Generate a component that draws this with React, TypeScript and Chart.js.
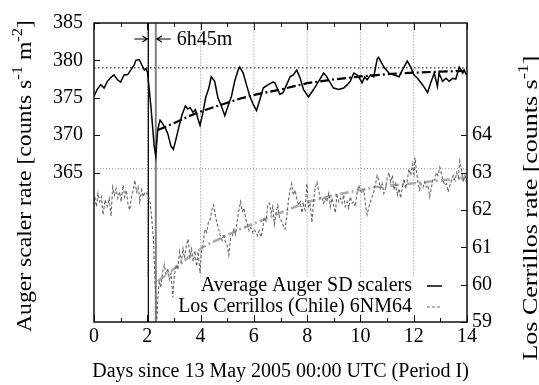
import React, { useEffect, useRef } from 'react';
import { Chart, registerables } from 'chart.js';
Chart.register(...registerables);

const FONT = '"Liberation Serif", "Times New Roman", serif';
const FS = 20;

// ---- data ----
const augerDays = [0,0.12,0.25,0.38,0.5,0.63,0.75,0.88,1.0,1.13,1.26,1.38,1.51,1.57,1.7,1.8,1.89,1.95,2.01,2.14,2.26,2.32,2.39,2.48,2.58,2.68,2.77,2.89,2.98,3.1,3.2,3.31,3.43,3.52,3.61,3.71,3.81,3.9,3.98,4.09,4.19,4.31,4.4,4.53,4.65,4.78,4.91,5.03,5.16,5.28,5.41,5.47,5.6,5.72,5.85,5.97,6.1,6.23,6.35,6.54,6.72,6.79,6.92,6.98,7.1,7.23,7.36,7.48,7.61,7.74,7.86,8.05,8.24,8.43,8.62,8.74,8.87,8.99,9.18,9.37,9.51,9.62,9.75,9.88,10.0,10.06,10.16,10.25,10.38,10.5,10.63,10.68,10.88,11.07,11.26,11.45,11.57,11.76,11.89,12.01,12.14,12.33,12.52,12.64,12.77,12.89,12.95,13.08,13.21,13.33,13.46,13.58,13.71,13.84,13.89,13.98];
const augerRates = [375.2,376.1,376.75,376.3,377.2,377.7,378.05,377.4,377.1,378.05,378.1,378.7,379.4,380.0,380.1,379.35,378.7,378.9,378.4,373.7,368.5,367.2,370.7,372.0,371.5,370.9,370.2,368.5,368.1,369.8,371.3,372.8,373.9,373.5,373.7,373.05,373.4,372.2,371.3,373.05,375.0,376.3,377.8,377.2,375.0,373.9,372.6,373.9,375.2,377.2,378.7,379.1,378.3,376.75,375.2,374.15,373.3,374.8,376.3,376.75,377.1,377.0,375.9,375.45,375.7,376.75,377.8,378.05,378.7,377.6,376.1,375.1,376.1,377.2,378.3,377.8,377.0,376.3,376.1,376.3,376.75,377.2,378.3,378.05,377.4,377.0,377.8,377.4,378.05,377.8,380.2,380.4,379.1,378.3,378.05,377.8,378.7,379.9,379.1,378.05,377.6,376.75,375.7,377.0,378.3,376.5,378.3,377.2,377.6,377.2,377.6,377.5,379.1,378.3,378.7,378.05];

const cerrDays = [0,0.03,0.09,0.15,0.21,0.28,0.34,0.42,0.5,0.57,0.64,0.7,0.77,0.83,0.89,0.96,1.02,1.09,1.15,1.21,1.28,1.34,1.4,1.47,1.53,1.6,1.66,1.72,1.79,1.85,1.91,1.98,2.04,2.11,2.17,2.23,2.27,2.32,2.36,2.4,2.45,2.51,2.58,2.64,2.7,2.77,2.83,2.89,2.96,3.02,3.09,3.15,3.21,3.28,3.34,3.4,3.47,3.53,3.6,3.66,3.72,3.79,3.85,3.91,3.98,4.04,4.1,4.17,4.23,4.29,4.36,4.42,4.49,4.55,4.61,4.68,4.74,4.81,4.87,4.93,5.0,5.06,5.12,5.19,5.25,5.31,5.38,5.44,5.5,5.57,5.63,5.7,5.76,5.82,5.89,5.95,6.01,6.08,6.14,6.2,6.27,6.33,6.39,6.46,6.52,6.58,6.65,6.71,6.77,6.84,6.9,6.96,
  7.04,7.11,7.17,7.23,7.3,7.36,7.42,7.48,7.55,7.61,7.67,7.74,7.8,7.86,7.92,7.99,8.05,8.11,8.18,8.24,8.3,8.37,8.43,8.49,8.55,8.62,8.68,8.74,8.81,8.87,8.93,8.99,9.06,9.12,9.18,9.25,9.31,9.37,9.43,9.5,9.56,9.62,9.69,9.75,9.81,9.87,9.94,10.0,10.06,10.13,10.19,10.25,10.31,10.38,10.44,10.5,10.57,10.63,10.69,10.75,10.82,10.88,10.94,11.01,11.07,11.13,11.2,11.26,11.32,11.39,11.45,11.51,11.57,11.64,11.7,11.76,11.82,11.89,11.95,12.01,12.05,12.1,12.16,12.22,12.28,12.35,12.41,12.47,12.54,12.6,12.66,12.72,12.79,12.85,12.91,12.98,13.04,13.1,13.17,13.23,13.29,13.36,13.42,13.48,13.55,13.61,13.67,13.73,13.8,13.86,13.92,13.99];
const cerrRates = [62.22,62.35,62.09,62.44,62.22,62.35,61.87,62.27,62.09,62.31,61.83,62.61,62.40,62.57,62.31,62.48,62.22,62.66,62.35,62.53,62.13,62.0,62.31,62.53,62.79,62.48,62.61,62.22,62.53,62.35,62.48,62.44,62.40,62.18,61.74,61.22,60.44,59.57,59.05,59.66,60.09,59.92,60.36,60.53,60.27,60.44,60.14,60.31,59.66,60.27,60.53,60.40,60.88,60.62,60.96,60.70,61.05,61.22,60.75,60.96,60.62,60.83,60.49,60.88,60.31,60.96,61.14,61.48,61.40,61.66,61.74,62.0,62.13,61.87,61.66,61.48,61.31,61.18,61.35,61.14,61.05,60.79,61.22,61.31,61.48,61.35,61.74,62.0,62.22,61.96,62.05,61.74,61.61,61.44,61.53,61.40,61.48,61.40,61.31,61.44,61.27,61.48,61.79,61.70,62.13,62.18,61.92,62.09,61.61,61.96,62.13,61.79,
  61.70,61.57,61.48,61.79,62.27,62.53,62.70,62.40,62.53,62.31,62.13,62.22,61.92,62.13,62.0,62.70,62.09,62.18,61.66,62.22,62.61,62.74,62.53,62.31,62.35,62.18,62.31,62.22,62.44,62.09,62.31,62.13,61.92,62.44,62.22,62.31,62.18,62.40,62.09,62.22,62.05,62.35,62.18,62.22,62.09,62.44,62.66,62.53,62.44,62.53,62.13,61.87,62.05,62.22,62.35,62.48,62.70,62.92,62.79,62.57,62.70,62.44,62.57,62.87,63.0,62.74,62.92,62.53,62.70,62.40,62.57,62.31,62.61,62.83,62.57,62.79,63.09,62.92,63.22,62.96,63.40,63.05,62.74,62.53,62.70,62.61,62.74,62.61,62.66,62.35,62.57,62.83,62.79,63.0,62.92,63.14,62.96,62.79,62.66,62.70,62.48,62.66,62.79,62.92,62.79,63.0,62.87,63.31,63.05,62.74,62.92,62.70];

const augerFitDays = [2.4,3.0,3.6,4.2,4.8,5.5,6.1,7.0,8.0,9.0,10.0,11.0,12.0,13.0,14.0];
const augerFitRates = [370.7,371.6,372.6,373.4,374.1,374.9,375.45,376.1,376.95,377.45,377.85,378.15,378.35,378.5,378.6];
const cerrFitDays = [2.39,2.96,3.58,4.2,4.84,5.47,6.1,6.98,8.05,9.31,10.57,11.82,13.08,14.0];
const cerrFitRates = [60.09,60.40,60.75,61.05,61.27,61.48,61.66,61.92,62.22,62.44,62.61,62.70,62.79,62.87];

const augerRefLevel = 379.0;
const cerrRefLevel = 63.1;
const eventDays = [2.04, 2.32];
const gridDays = [2, 4, 6, 8, 10, 12];
const gridLowRate = 351.1;

const xTicks = [0, 2, 4, 6, 8, 10, 12, 14];
const augerTicks = [365, 370, 375, 380, 385];
const cerrTicks = [59, 60, 61, 62, 63, 64];
const legendLabels = ['Average Auger SD scalers', 'Los Cerrillos (Chile) 6NM64'];
const gapLabel = '6h45m';

const pts = (xs: number[], ys: number[]) => xs.map((x, i) => ({ x, y: ys[i] }));

function drawRich(ctx: CanvasRenderingContext2D, parts: { t: string; sup?: boolean }[], cx: number, cy: number, rot: boolean, targetLen?: number) {
  const main = `${FS}px ${FONT}`;
  const small = `14px ${FONT}`;
  let total = 0;
  const widths = parts.map(p => { ctx.font = p.sup ? small : main; const w = ctx.measureText(p.t).width; total += w; return w; });
  ctx.save();
  ctx.translate(cx, cy);
  if (rot) ctx.rotate(-Math.PI / 2);
  if (targetLen) ctx.scale(targetLen / total, 1);
  ctx.fillStyle = '#000';
  ctx.textBaseline = 'middle';
  ctx.textAlign = 'left';
  let x = -total / 2;
  parts.forEach((p, i) => {
    ctx.font = p.sup ? small : main;
    ctx.fillText(p.t, x, p.sup ? -8 : 0);
    x += widths[i];
  });
  ctx.restore();
}

const decor = {
  id: 'decor',
  afterDraw(chart: any) {
    const { ctx, chartArea: a, scales } = chart;
    const xs = scales.x, yl = scales.y, yr = scales.y2;
    ctx.save();
    // frame
    ctx.strokeStyle = '#111';
    ctx.lineWidth = 1.5;
    ctx.strokeRect(a.left, a.top, a.right - a.left, a.bottom - a.top);
    // ticks
    ctx.lineWidth = 1;
    ctx.beginPath();
    for (let d = 0; d <= 14; d++) {
      const px = Math.round(xs.getPixelForValue(d)) + 0.5;
      const len = d % 2 === 0 ? 7 : 4;
      ctx.moveTo(px, a.bottom); ctx.lineTo(px, a.bottom - len);
      ctx.moveTo(px, a.top); ctx.lineTo(px, a.top + len);
    }
    augerTicks.forEach(v => {
      const py = Math.round(yl.getPixelForValue(v)) + 0.5;
      ctx.moveTo(a.left, py); ctx.lineTo(a.left + 6, py);
    });
    cerrTicks.forEach(v => {
      const py = Math.round(yr.getPixelForValue(v)) + 0.5;
      ctx.moveTo(a.right, py); ctx.lineTo(a.right - 6, py);
    });
    ctx.stroke();

    // 6h45m annotation
    const p1 = xs.getPixelForValue(eventDays[0]);
    const p2 = xs.getPixelForValue(eventDays[1]);
    const ay = a.top + 16;
    ctx.strokeStyle = '#000';
    ctx.lineWidth = 1.2;
    ctx.beginPath();
    ctx.moveTo(p1 - 14, ay); ctx.lineTo(p1 - 1, ay);
    ctx.moveTo(p1 - 6, ay - 3); ctx.lineTo(p1 - 1, ay); ctx.lineTo(p1 - 6, ay + 3);
    ctx.moveTo(p2 + 15, ay); ctx.lineTo(p2 + 1, ay);
    ctx.moveTo(p2 + 6, ay - 3); ctx.lineTo(p2 + 1, ay); ctx.lineTo(p2 + 6, ay + 3);
    ctx.stroke();
    ctx.fillStyle = '#000';
    ctx.font = `${FS}px ${FONT}`;
    ctx.textBaseline = 'middle';
    ctx.textAlign = 'left';
    ctx.fillText(gapLabel, p2 + 21, ay + 1);

    // legend
    const tx = a.right - 55;
    const rows = [a.bottom - 36, a.bottom - 15];
    ctx.textAlign = 'right';
    legendLabels.forEach((t, i) => ctx.fillText(t, tx, rows[i]));
    ctx.beginPath();
    ctx.strokeStyle = '#000'; ctx.lineWidth = 1.5; ctx.setLineDash([]);
    ctx.moveTo(tx + 15, rows[0]); ctx.lineTo(tx + 30, rows[0]);
    ctx.stroke();
    ctx.beginPath();
    ctx.strokeStyle = '#666'; ctx.lineWidth = 1; ctx.setLineDash([3, 2]);
    ctx.moveTo(tx + 15, rows[1]); ctx.lineTo(tx + 30, rows[1]);
    ctx.stroke();
    ctx.setLineDash([]);

    // titles
    drawRich(ctx, [{ t: 'Days since 13 May 2005 00:00 UTC (Period I)' }], (a.left + a.right) / 2, 372, false);
    drawRich(ctx, [{ t: 'Auger scaler rate [counts s' }, { t: '-1', sup: true }, { t: ' m' }, { t: '-2', sup: true }, { t: ']' }], 26, 176, true, 312);
    drawRich(ctx, [{ t: 'Los Cerrillos rate [counts s' }, { t: '-1', sup: true }, { t: ']' }], 532, 208, true, 305);
    ctx.restore();
  },
};

export default function App() {
  const ref = useRef<HTMLCanvasElement>(null);
  useEffect(() => {
    document.body.style.margin = '0';
    const lineBase = { pointRadius: 0, tension: 0, fill: false, borderCapStyle: 'butt' };
    const gridSets = gridDays.map(d => ({
      ...lineBase, data: [{ x: d, y: gridLowRate }, { x: d, y: 385 }], yAxisID: 'y',
      borderColor: '#888', borderWidth: 1, borderDash: [1, 2],
    }));
    const tickFont = { family: FONT, size: FS };
    const chart = new Chart(ref.current!, {
      type: 'line',
      data: {
        datasets: [
          { ...lineBase, data: pts(augerDays, augerRates), yAxisID: 'y', borderColor: '#000', borderWidth: 1.5 },
          { ...lineBase, data: pts(augerFitDays, augerFitRates), yAxisID: 'y', borderColor: '#000', borderWidth: 2.2, borderDash: [9, 3, 2, 3] },
          { ...lineBase, data: pts(cerrDays, cerrRates), yAxisID: 'y2', borderColor: '#666', borderWidth: 1.1, borderDash: [3, 2] },
          { ...lineBase, data: pts(cerrFitDays, cerrFitRates), yAxisID: 'y2', borderColor: '#aaaaaa', borderWidth: 2.6, borderDash: [9, 3, 2, 3] },
          { ...lineBase, data: [{ x: eventDays[0], y: 345 }, { x: eventDays[0], y: 385 }], yAxisID: 'y', borderColor: '#000', borderWidth: 1.2 },
          { ...lineBase, data: [{ x: eventDays[1], y: 345 }, { x: eventDays[1], y: 385 }], yAxisID: 'y', borderColor: '#808080', borderWidth: 2 },
          { ...lineBase, data: [{ x: 0, y: augerRefLevel }, { x: 14, y: augerRefLevel }], yAxisID: 'y', borderColor: '#000', borderWidth: 1, borderDash: [1.5, 2.5] },
          { ...lineBase, data: [{ x: 0, y: cerrRefLevel }, { x: 14, y: cerrRefLevel }], yAxisID: 'y2', borderColor: '#888', borderWidth: 1, borderDash: [1, 2] },
          ...gridSets,
        ] as any,
      },
      options: {
        responsive: false,
        animation: false,
        devicePixelRatio: 1,
        layout: { padding: { top: 15, left: 0, right: 0, bottom: 0 } },
        plugins: { legend: { display: false }, tooltip: { enabled: false } },
        scales: {
          x: {
            type: 'linear', position: 'bottom', min: 0, max: 14,
            afterBuildTicks: (s: any) => { s.ticks = xTicks.map(v => ({ value: v })); },
            afterFit: (s: any) => { s.height = 63; },
            grid: { display: false, drawTicks: false }, border: { display: false },
            ticks: { font: tickFont, color: '#000', padding: 3, maxRotation: 0, autoSkip: false },
          },
          y: {
            type: 'linear', position: 'left', min: 345, max: 385,
            afterBuildTicks: (s: any) => { s.ticks = augerTicks.map(v => ({ value: v })); },
            afterFit: (s: any) => { s.width = 94; },
            grid: { display: false, drawTicks: false }, border: { display: false },
            ticks: { font: tickFont, color: '#000', padding: 11, autoSkip: false },
          },
          y2: {
            type: 'linear', position: 'right', min: 59, max: 67,
            afterBuildTicks: (s: any) => { s.ticks = cerrTicks.map(v => ({ value: v })); },
            afterFit: (s: any) => { s.width = 72; },
            grid: { display: false, drawTicks: false }, border: { display: false },
            ticks: { font: tickFont, color: '#000', padding: 5, autoSkip: false },
          },
        },
      } as any,
      plugins: [decor],
    });
    return () => chart.destroy();
  }, []);
  return (
    <div style={{ width: 539, height: 385, background: '#fff' }}>
      <canvas ref={ref} width={539} height={385} style={{ display: 'block' }} />
    </div>
  );
}
